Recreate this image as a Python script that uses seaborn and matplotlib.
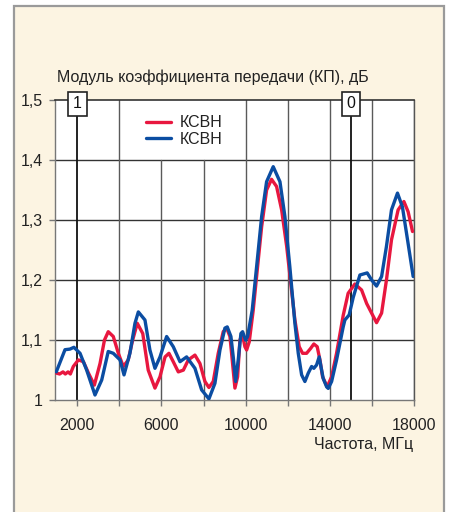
import matplotlib
matplotlib.use("Agg")
import matplotlib.pyplot as plt
import seaborn as sns
import pandas as pd
from matplotlib.patches import Rectangle

# ---- data ----
freq_red = [1000, 1160, 1320, 1430, 1560, 1670, 1810, 2050, 2290, 2530, 2810, 3080, 3290, 3470,
            3710, 3950, 4185, 4420, 4630, 4850, 5110, 5370, 5690, 5930, 6170, 6355, 6560, 6800,
            7040, 7275, 7590, 7828, 8065, 8255, 8460, 8697, 8934, 9096, 9253, 9362, 9490, 9618,
            9728, 9837, 9965, 10046, 10170, 10360, 10520, 10760, 10995, 11230, 11470, 11710,
            11950, 12180, 12340, 12545, 12705, 12895, 13085, 13240, 13400, 13530, 13655, 13875,
            14085, 14320, 14635, 14870, 15190, 15510, 15750, 15985, 16220, 16460, 16690, 16930,
            17245, 17520, 17720, 17930]
ksvn_red = [1.044, 1.0425, 1.046, 1.0425, 1.046, 1.0425, 1.055, 1.066, 1.063, 1.044, 1.024, 1.06,
            1.099, 1.113, 1.105, 1.077, 1.055, 1.066, 1.099, 1.127, 1.11, 1.049, 1.019, 1.038,
            1.071, 1.077, 1.063, 1.046, 1.049, 1.066, 1.074, 1.06, 1.03, 1.02, 1.03, 1.077,
            1.113, 1.119, 1.105, 1.066, 1.019, 1.038, 1.099, 1.11, 1.088, 1.0825, 1.096, 1.149,
            1.205, 1.288, 1.349, 1.367, 1.355, 1.316, 1.255, 1.1825, 1.1325, 1.088, 1.077, 1.077,
            1.085, 1.0925, 1.088, 1.066, 1.038, 1.021, 1.038, 1.077, 1.14, 1.177, 1.1925, 1.1825,
            1.16, 1.144, 1.128, 1.144, 1.199, 1.266, 1.316, 1.33, 1.313, 1.28]

freq_blue = [1000, 1415, 1650, 1840, 2130, 2445, 2840, 3160, 3470, 3710, 4030, 4220, 4500, 4740,
             4900, 5215, 5450, 5690, 5930, 6245, 6560, 6880, 7195, 7590, 7908, 8255, 8540, 8778,
             9015, 9125, 9300, 9410, 9523, 9647, 9775, 9855, 9998, 10093, 10203, 10312, 10520,
             10760, 10995, 11310, 11630, 11865, 12100, 12340, 12500, 12660, 12815, 12975, 13135,
             13240, 13370, 13495, 13610, 13685, 13850, 13925, 14085, 14320, 14635, 14715, 14920,
             15110, 15430, 15775, 15990, 16220, 16460, 16690, 16930, 17215, 17450, 17720, 17960]
ksvn_blue = [1.046, 1.083, 1.084, 1.087, 1.077, 1.049, 1.0075, 1.0325, 1.08, 1.077, 1.066, 1.041,
             1.077, 1.127, 1.146, 1.1325, 1.0825, 1.052, 1.071, 1.105, 1.088, 1.063, 1.071, 1.052,
             1.016, 1.001, 1.027, 1.0825, 1.119, 1.121, 1.105, 1.071, 1.03, 1.066, 1.11, 1.113,
             1.099, 1.105, 1.127, 1.149, 1.221, 1.305, 1.363, 1.388, 1.363, 1.305, 1.221, 1.127,
             1.077, 1.041, 1.03, 1.044, 1.055, 1.052, 1.0575, 1.071, 1.049, 1.035, 1.021, 1.0185,
             1.03, 1.066, 1.121, 1.1325, 1.141, 1.17, 1.2075, 1.211, 1.199, 1.189, 1.205, 1.255,
             1.316, 1.344, 1.321, 1.26, 1.205]

series_labels = ["КСВН", "КСВН"]
y_ticks = [1.0, 1.1, 1.2, 1.3, 1.4, 1.5]
y_tick_labels = ["1", "1,1", "1,2", "1,3", "1,4", "1,5"]
x_ticks = [2000, 6000, 10000, 14000, 18000]
x_grid = [2000, 4000, 6000, 8000, 10000, 12000, 14000, 15000, 16000, 18000]
markers = [(2000, "1"), (15000, "0")]
title = "Модуль коэффициента передачи (КП), дБ"
xlabel = "Частота, МГц"

RED = "#E8173F"
BLUE = "#0B4DA2"
FS = 11.5

sns.set_theme(style="white")
plt.rcParams["font.family"] = ["Liberation Sans", "DejaVu Sans"]

W, H = 450, 512
fig = plt.figure(figsize=(W / 100, H / 100), dpi=100, facecolor="white")
fig.patches.append(Rectangle((14 / W, -0.02), 430 / W, 1 - 6 / H + 0.02, transform=fig.transFigure,
                             facecolor="#FCF4E2", edgecolor="#9A9A9A", linewidth=1.6, zorder=-10))

ax = fig.add_axes([55 / W, 1 - 399.5 / H, 359 / W, 300 / H])
ax.set_facecolor("white")

df_r = pd.DataFrame({"f": freq_red, "v": ksvn_red})
df_b = pd.DataFrame({"f": freq_blue, "v": ksvn_blue})
sns.lineplot(data=df_r, x="f", y="v", ax=ax, color=RED, lw=2.4, sort=False, estimator=None,
             label=series_labels[0], zorder=4, solid_joinstyle="round", solid_capstyle="round")
sns.lineplot(data=df_b, x="f", y="v", ax=ax, color=BLUE, lw=2.4, sort=False, estimator=None,
             label=series_labels[1], zorder=5, solid_joinstyle="round", solid_capstyle="round")

ax.set_xlim(940, 18000)
ax.set_ylim(1.0, 1.5)

# grid
for y in y_ticks[1:-1]:
    ax.axhline(y, color="#333333", lw=1.0, zorder=1)
for x in x_grid:
    if x in (2000, 15000):
        ax.axvline(x, color="#111111", lw=1.3, zorder=2)
    elif x in (6000, 8000):
        ax.axvline(x, ymax=0.8, color="#5a5a5a", lw=1.0, zorder=1)
    else:
        ax.axvline(x, color="#5a5a5a", lw=1.0, zorder=1)

for s in ["left", "bottom"]:
    ax.spines[s].set_color("#777777")
    ax.spines[s].set_linewidth(1.0)
ax.spines["top"].set_color("#333333")
ax.spines["top"].set_linewidth(1.2)
ax.spines["right"].set_color("#555555")
ax.spines["right"].set_linewidth(1.0)

ax.set_yticks(y_ticks)
ax.set_yticklabels(y_tick_labels)
ax.set_xticks(x_ticks)
ax.set_xticklabels([str(x) for x in x_ticks])
ax.set_xticks([4000, 8000, 12000, 16000], minor=True)
ax.tick_params(axis="both", which="both", direction="out", length=4, width=1, color="#777777",
               labelsize=FS, labelcolor="#222222")
ax.tick_params(axis="x", which="major", pad=9)
ax.tick_params(axis="y", pad=5, left=True)
ax.tick_params(axis="x", bottom=True, which="both")
ax.set_xlabel("")
ax.set_ylabel("")

for xm, txt in markers:
    ax.text(xm, 1.4925, txt, ha="center", va="center", fontsize=FS, color="#111111", zorder=6,
            bbox=dict(boxstyle="square,pad=0.3", fc="white", ec="#222222", lw=1.2), clip_on=False)

leg = ax.legend(loc="upper left", bbox_to_anchor=(0.221, 0.985), frameon=False, fontsize=FS,
                handlelength=1.6, handletextpad=0.55, labelspacing=0.1, borderpad=0.2)
for t in leg.get_texts():
    t.set_color("#222222")

fig.text(57 / W, 1 - 82 / H, title, ha="left", va="baseline", fontsize=FS, color="#222222")
fig.text(413 / W, 1 - 449 / H, xlabel, ha="right", va="baseline", fontsize=FS, color="#222222")

fig.savefig("out.png", dpi=100, facecolor=fig.get_facecolor())
